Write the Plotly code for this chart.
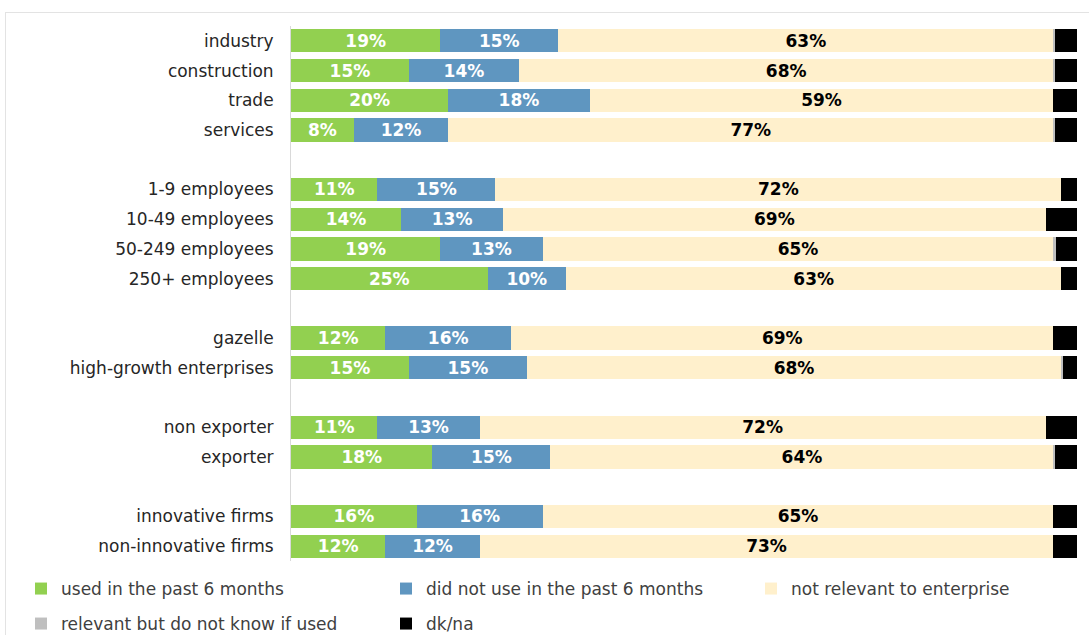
import plotly.graph_objects as go

# Row labels (top to bottom) grouped by enterprise characteristic
categories = [
    "industry", "construction", "trade", "services",
    "1-9 employees", "10-49 employees", "50-249 employees", "250+ employees",
    "gazelle", "high-growth enterprises",
    "non exporter", "exporter",
    "innovative firms", "non-innovative firms",
]
# Blank rows inserted after these groups to separate them
group_sizes = [4, 4, 2, 2, 2]

used = [19, 15, 20, 8, 11, 14, 19, 25, 12, 15, 11, 18, 16, 12]
not_used = [15, 14, 18, 12, 15, 13, 13, 10, 16, 15, 13, 15, 16, 12]
not_relevant = [63, 68, 59, 77, 72, 69, 65, 63, 69, 68, 72, 64, 65, 73]
dont_know = [0.2, 0.2, 0.0, 0.2, 0.0, 0.0, 0.3, 0.0, 0.0, 0.2, 0.0, 0.2, 0.0, 0.0]
dk_na = [2.8, 2.8, 3.0, 2.8, 2.0, 4.0, 2.7, 2.0, 3.0, 1.8, 4.0, 2.8, 3.0, 3.0]

series_names = [
    "used in the past 6 months",
    "did not use in the past 6 months",
    "not relevant to enterprise",
    "relevant but do not know if used",
    "dk/na",
]
colors = ["#92D050", "#5F96C0", "#FFF0CC", "#BFBFBF", "#000000"]
text_colors = ["white", "white", "black", None, None]
series_values = [used, not_used, not_relevant, dont_know, dk_na]

# Category axis with unlabeled spacer rows between the groups
rows = []          # (label, index into data or None)
idx = 0
for g, size in enumerate(group_sizes):
    for _ in range(size):
        rows.append((categories[idx], idx))
        idx += 1
    if g < len(group_sizes) - 1:
        rows.append(("\u200b" * (g + 1), None))
row_labels = [r[0] for r in rows]


def expand(vals):
    return [vals[i] if i is not None else None for _, i in rows]


L, R, T, B = 291, 12, 26, 74
W, H = 1089, 635
pw = W - L - R
ph = H - T - B


def px_x(p):
    return (p - L) / pw


def px_y(p):
    return (H - B - p) / ph


# legend entry positions: three per row, two rows
legend_pos = [(21, 589), (386, 589), (751, 589), (21, 624), (386, 624)]

fig = go.Figure()
legend_layout = {}
for i, (name, vals, col, tcol) in enumerate(zip(series_names, series_values, colors, text_colors)):
    show_text = tcol is not None
    xs = expand(vals)
    lg = "legend" if i == 0 else f"legend{i + 1}"
    fig.add_trace(go.Bar(
        y=row_labels,
        x=xs,
        name=name,
        orientation="h",
        marker=dict(color=col, line=dict(width=0)),
        text=[(f"{v:.0f}%" if v is not None else None) for v in xs] if show_text else None,
        textposition="inside" if show_text else "none",
        insidetextanchor="middle",
        textangle=0,
        textfont=dict(family="DejaVu Sans", size=17, color=tcol or "black", weight="bold"),
        legend=lg,
        hoverinfo="skip",
    ))
    lx, ly = legend_pos[i]
    legend_layout[lg] = dict(
        x=px_x(lx), y=px_y(ly),
        xanchor="left", yanchor="middle",
        orientation="h",
        font=dict(family="DejaVu Sans", size=17, color="#404040"),
        bgcolor="rgba(0,0,0,0)",
        itemclick=False,
        itemdoubleclick=False,
    )

n_rows = len(row_labels)

fig.update_layout(
    width=W,
    height=H,
    barmode="stack",
    bargap=0.22,
    uniformtext=dict(mode="show", minsize=17),
    margin=dict(l=L, r=R, t=T, b=B, autoexpand=False),
    paper_bgcolor="white",
    plot_bgcolor="white",
    showlegend=True,
    xaxis=dict(
        range=[0, 100],
        showgrid=False,
        zeroline=False,
        showticklabels=False,
        showline=False,
        fixedrange=True,
    ),
    yaxis=dict(
        categoryorder="array",
        categoryarray=row_labels,
        range=[n_rows - 0.5, -0.5],
        tickmode="array",
        tickvals=categories,
        ticktext=categories,
        showgrid=False,
        zeroline=False,
        showline=True,
        linecolor="#D9D9D9",
        linewidth=1,
        ticks="outside",
        ticklen=13,
        tickcolor="rgba(0,0,0,0)",
        tickfont=dict(family="DejaVu Sans", size=17, color="#262626"),
        fixedrange=True,
    ),
    font=dict(family="DejaVu Sans"),
    shapes=[
        # light frame around the chart area
        dict(type="line", xref="paper", yref="paper",
             x0=px_x(5), x1=px_x(1095), y0=px_y(12.5), y1=px_y(12.5),
             line=dict(color="#E3E3E3", width=1)),
        dict(type="line", xref="paper", yref="paper",
             x0=px_x(5.5), x1=px_x(5.5), y0=px_y(12.5), y1=px_y(640),
             line=dict(color="#E3E3E3", width=1)),
    ],
    **legend_layout,
)

fig.write_html("out.html")
